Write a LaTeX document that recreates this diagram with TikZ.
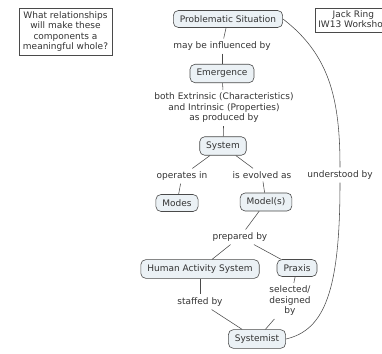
\documentclass[tikz,border=0pt]{standalone}
\usepackage{fontspec}
\setmainfont{DejaVu Sans}
\definecolor{conceptfill}{HTML}{EBF1F5}
\definecolor{inkgray}{HTML}{333333}
\definecolor{edgegray}{HTML}{4A4A4A}
\begin{document}
\begin{tikzpicture}[x=1pt,y=-1pt,
  every node/.style={font=\fontsize{9}{10.5}\selectfont, text=inkgray, align=center},
  concept/.style={draw=edgegray, fill=conceptfill, rounded corners=5pt, line width=0.6pt,
                  inner xsep=6.5pt, inner ysep=5pt},
  linklabel/.style={inner sep=3pt},
  note/.style={draw=edgegray, fill=white, line width=0.5pt, inner xsep=3pt, inner ysep=2pt},
  conn/.style={draw=edgegray, line width=0.55pt}]
\useasboundingbox (0,0) rectangle (382,353);

% free-standing notes
\node[note, minimum width=93pt, minimum height=47pt] (question) at (65.5,31.5)
  {What relationships\\will make these\\components a\\meaningful whole?};
\begin{scope}
  \clip (0,0) rectangle (382,353);
  \node[note, anchor=north west, minimum height=24pt] (author) at (315,8) {Jack Ring\\IW13 Workshop};
\end{scope}

% concepts
\node[concept] (ps)     at (228,19)  {Problematic Situation};
\node[concept] (emerg)  at (222,73.5) {Emergence};
\node[concept] (system) at (223,146) {System};
\node[concept] (modes)  at (177,203) {Modes};
\node[concept] (models) at (266,202) {Model(s)};
\node[concept] (has)    at (200,269) {Human Activity System};
\node[concept] (praxis) at (297,268) {Praxis};
\node[concept] (sysmst) at (257,339) {Systemist};

% linking phrases
\node[linklabel] (l-infl)  at (222,46)  {may be influenced by};
\node[linklabel] (l-prod)  at (224,108) {both Extrinsic (Characteristics)\\and Intrinsic (Properties)\\as produced by};
\node[linklabel] (l-oper)  at (182,176) {operates in};
\node[linklabel] (l-evol)  at (262,175) {is evolved as};
\node[linklabel] (l-under) at (340,175) {understood by};
\node[linklabel] (l-prep)  at (240,237) {prepared by};
\node[linklabel] (l-staff) at (200,302) {staffed by};
\node[linklabel] (l-sel)   at (290,301) {selected/\\designed\\by};

% connectors
\draw[conn] (ps) -- (l-infl);
\draw[conn] (l-infl) -- (emerg);
\draw[conn] (emerg) -- (l-prod);
\draw[conn] (l-prod) -- (system);
\draw[conn] (system) -- (l-oper);
\draw[conn] (l-oper) -- (modes);
\draw[conn] (system) -- (l-evol);
\draw[conn] (l-evol) -- (models);
\draw[conn] (models) -- (l-prep);
\draw[conn] (l-prep) -- (has);
\draw[conn] (l-prep) -- (praxis);
\draw[conn] (has) -- (l-staff);
\draw[conn] (l-staff) -- (sysmst);
\draw[conn] (praxis) -- (l-sel);
\draw[conn] (l-sel) -- (sysmst);
\draw[conn] (ps.east) .. controls (330,55) and (340,100) .. (l-under.north);
\draw[conn] (l-under.south) .. controls (340,290) and (325,330) .. (sysmst.east);
\end{tikzpicture}
\end{document}
